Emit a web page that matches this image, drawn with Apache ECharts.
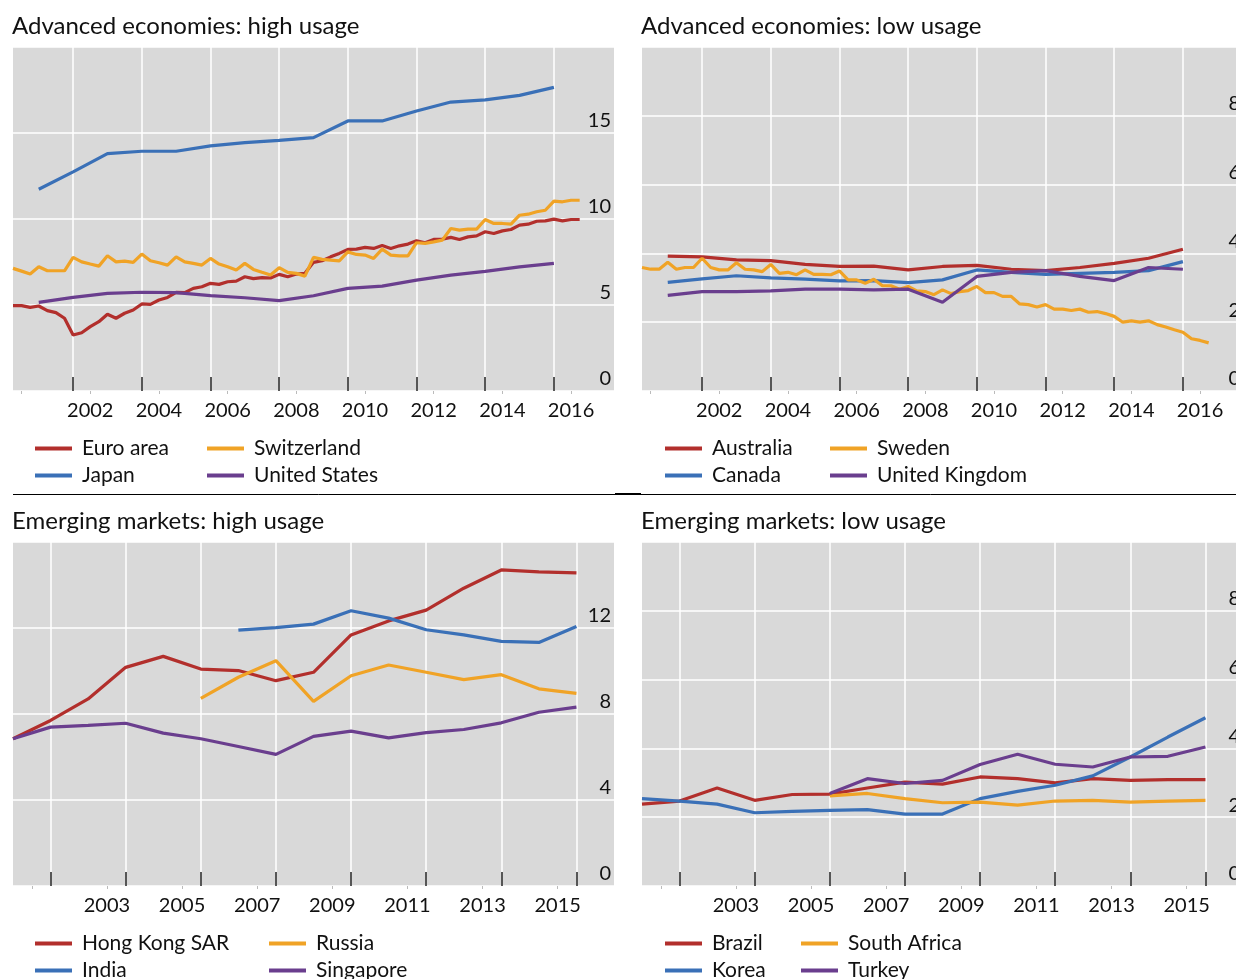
<!DOCTYPE html>
<html><head><meta charset="utf-8">
<script src="https://cdn.jsdelivr.net/npm/echarts@6/dist/echarts.min.js"></script>
<style>html,body{margin:0;padding:0;background:#fff}#c{width:1236px;height:979px}</style>
</head><body><div id="c"></div><script>
// ---------- data ----------
const annualYears = [2001,2002,2003,2004,2005,2006,2007,2008,2009,2010,2011,2012,2013,2014,2015,2016];
// quarterly periods 2000 Q2 .. 2016 Q4 (x position = end of quarter in decimal years)
const quarterYears = [];
for (let y = 2000; y <= 2016; y++) { for (let q = 1; q <= 4; q++) { const t = y + q / 4; if (t >= 2000.25 && t <= 2016.75) quarterYears.push(t); } }

const euroArea = [4.96,4.96,4.86,4.94,4.67,4.56,4.23,3.26,3.39,3.74,4.03,4.46,4.23,4.52,4.71,5.06,5.04,5.29,5.44,5.73,5.72,5.97,6.06,6.26,6.2,6.35,6.39,6.64,6.53,6.59,6.57,6.78,6.64,6.8,6.84,7.48,7.57,7.8,8.0,8.23,8.25,8.35,8.29,8.46,8.29,8.44,8.54,8.73,8.62,8.81,8.83,8.93,8.81,8.96,9.02,9.26,9.16,9.31,9.39,9.64,9.7,9.87,9.89,9.99,9.89,9.97,9.97];
const switzerland = [7.13,6.97,6.8,7.22,6.99,6.99,6.99,7.77,7.51,7.38,7.26,7.86,7.51,7.55,7.48,7.96,7.57,7.46,7.32,7.8,7.51,7.42,7.32,7.71,7.38,7.22,7.03,7.42,7.07,6.9,6.74,7.17,6.9,6.84,6.68,7.77,7.65,7.61,7.57,8.09,7.94,7.9,7.71,8.25,7.9,7.86,7.86,8.62,8.58,8.67,8.77,9.45,9.35,9.41,9.41,9.97,9.74,9.74,9.7,10.22,10.28,10.42,10.51,11.04,11.0,11.09,11.09];
const japan = [11.73,12.74,13.8,13.94,13.94,14.25,14.44,14.57,14.73,15.7,15.7,16.28,16.8,16.93,17.19,17.65];
const unitedStates = [5.15,5.44,5.68,5.74,5.72,5.54,5.42,5.25,5.54,5.97,6.1,6.45,6.74,6.95,7.22,7.42];

const australia = [3.92,3.9,3.81,3.79,3.68,3.62,3.63,3.52,3.62,3.65,3.54,3.5,3.59,3.71,3.86,4.12];
const canada = [3.16,3.26,3.35,3.29,3.25,3.2,3.21,3.15,3.23,3.52,3.45,3.39,3.42,3.45,3.5,3.76];
const unitedKingdom = [2.78,2.89,2.89,2.91,2.96,2.96,2.94,2.96,2.58,3.33,3.45,3.5,3.33,3.21,3.59,3.54];
const sweden = [3.59,3.54,3.54,3.74,3.54,3.59,3.59,3.86,3.59,3.52,3.52,3.73,3.54,3.52,3.47,3.68,3.42,3.45,3.38,3.52,3.39,3.39,3.38,3.49,3.23,3.23,3.13,3.25,3.06,3.06,2.96,3.04,2.91,2.89,2.8,2.94,2.83,2.89,2.92,3.04,2.86,2.86,2.75,2.75,2.53,2.51,2.44,2.51,2.38,2.38,2.34,2.38,2.29,2.31,2.25,2.17,2.0,2.04,2.0,2.04,1.93,1.86,1.78,1.71,1.52,1.47,1.4];

const hongKong = [6.85,7.7,8.7,10.17,10.68,10.09,10.02,9.55,9.94,11.68,12.33,12.83,13.85,14.7,14.61,14.56];
const india = [null,null,null,null,null,null,11.9,12.02,12.18,12.8,12.46,11.92,11.68,11.38,11.33,12.07];
const russia = [null,null,null,null,null,8.73,9.71,10.48,8.59,9.78,10.28,9.94,9.6,9.83,9.17,8.96];
const singapore = [6.85,7.39,7.47,7.57,7.11,6.85,6.49,6.12,6.96,7.2,6.89,7.13,7.28,7.59,8.08,8.32];

const brazil = [2.38,2.47,2.85,2.49,2.66,2.67,2.85,3.02,2.96,3.17,3.12,3.0,3.12,3.07,3.09,3.09];
const korea = [2.54,2.47,2.38,2.13,2.17,2.2,2.22,2.09,2.09,2.54,2.75,2.93,3.2,3.75,4.33,4.89];
const southAfrica = [null,null,null,null,null,2.62,2.69,2.54,2.42,2.44,2.35,2.47,2.49,2.44,2.47,2.49];
const turkey = [null,null,null,null,null,2.69,3.12,2.98,3.07,3.53,3.83,3.54,3.46,3.75,3.77,4.04];

const gridYears = [2002,2004,2006,2008,2010,2012,2014,2016];
const topLabelYears = [2002,2004,2006,2008,2010,2012,2014,2016];
const bottomLabelYears = [2003,2005,2007,2009,2011,2013,2015];

// ---------- styling ----------
const FONT = 'Lato';
const COLORS = ['#B22F2C', '#3A70B7', '#F0A326', '#6A3E8E'];
const zip = (xs, ys) => xs.map((x, i) => [x, ys[i]]);

const panels = [
  { title: 'Advanced economies: high usage', left: 13, top: 47, xmin: 2000.25, xmax: 2017.75, ymax: 20, yint: 5,
    labels: topLabelYears, minorFirst: 2000.5,
    series: [['Euro area', zip(quarterYears, euroArea)], ['Japan', zip(annualYears, japan)],
             ['Switzerland', zip(quarterYears, switzerland)], ['United States', zip(annualYears, unitedStates)]],
    legendLeft: [35, 207] },
  { title: 'Advanced economies: low usage', left: 642, top: 47, xmin: 2000.25, xmax: 2017.75, ymax: 10, yint: 2,
    labels: topLabelYears, minorFirst: 2000.5,
    series: [['Australia', zip(annualYears, australia)], ['Canada', zip(annualYears, canada)],
             ['Sweden', zip(quarterYears, sweden)], ['United Kingdom', zip(annualYears, unitedKingdom)]],
    legendLeft: [665, 830] },
  { title: 'Emerging markets: high usage', left: 13, top: 542, xmin: 2001, xmax: 2017, ymax: 16, yint: 4,
    labels: bottomLabelYears, minorFirst: 2001.5,
    series: [['Hong Kong SAR', zip(annualYears, hongKong)], ['India', zip(annualYears, india)],
             ['Russia', zip(annualYears, russia)], ['Singapore', zip(annualYears, singapore)]],
    legendLeft: [35, 269] },
  { title: 'Emerging markets: low usage', left: 642, top: 542, xmin: 2001, xmax: 2017, ymax: 10, yint: 2,
    labels: bottomLabelYears, minorFirst: 2001.5,
    series: [['Brazil', zip(annualYears, brazil)], ['Korea', zip(annualYears, korea)],
             ['South Africa', zip(annualYears, southAfrica)], ['Turkey', zip(annualYears, turkey)]],
    legendLeft: [665, 801] }
];

const option = { animation: false, title: [], grid: [], xAxis: [], yAxis: [], series: [], legend: [], graphic: [] };
const W = 601, H = 344;

panels.forEach((p, k) => {
  option.title.push({ text: p.title, left: p.left - 1, top: p.top - 33, padding: 0,
    textStyle: { fontFamily: FONT, fontSize: 24, fontWeight: 'normal', color: '#111' } });
  option.grid.push({ left: p.left, top: p.top, width: W, height: H, show: true,
    backgroundColor: '#D9D9D9', borderWidth: 0, containLabel: false, outerBoundsMode: 'none' });
  // main axis: gridlines + major inside ticks
  option.xAxis.push({ type: 'value', gridIndex: k, min: p.xmin, max: p.xmax, position: 'bottom',
    axisLine: { show: false },
    axisTick: { show: true, inside: true, length: 14, customValues: gridYears, lineStyle: { color: '#222', width: 1.5 } },
    axisLabel: { show: false },
    splitLine: { show: true, lineStyle: { color: '#FFFFFF', width: 1.5 } } });
  option.yAxis.push({ type: 'value', gridIndex: k, min: 0, max: p.ymax, interval: p.yint, position: 'right',
    axisLine: { show: false }, axisTick: { show: false },
    axisLabel: { inside: true, margin: 3, verticalAlign: 'bottom', showMaxLabel: false, padding: [0, 0, 2, 0],
      fontFamily: FONT, fontSize: 20, color: '#111' },
    splitLine: { show: true, lineStyle: { color: '#FFFFFF', width: 1.5 } } });
  p.series.forEach((s, j) => {
    option.series.push({ name: s[0], type: 'line', xAxisIndex: k, yAxisIndex: k, data: s[1],
      showSymbol: false, symbol: 'none', connectNulls: false, clip: true,
      lineStyle: { color: COLORS[j], width: 3.2 }, itemStyle: { color: COLORS[j] }, z: 3 });
  });
  [0, 1].forEach(c => {
    option.legend.push({ orient: 'vertical', left: p.legendLeft[c], top: p.top + H + 47, height: 80, padding: 0,
      itemGap: 6, itemWidth: 37, itemHeight: 4, icon: 'rect', selectedMode: false,
      data: [p.series[c * 2][0], p.series[c * 2 + 1][0]],
      textStyle: { fontFamily: FONT, fontSize: 21, color: '#111', padding: [0, 0, 0, 5] } });
  });
});
// label axes (mid-year labels + small outer ticks)
panels.forEach((p, k) => {
  const minor = [p.minorFirst].concat(p.labels.map(y => y + 0.5));
  option.xAxis.push({ type: 'value', gridIndex: k, min: p.xmin, max: p.xmax, position: 'bottom',
    axisLine: { show: false },
    axisTick: { show: true, inside: false, length: 3, customValues: minor, lineStyle: { color: '#BBBBBB', width: 1 } },
    axisLabel: { show: true, customValues: p.labels.map(y => y + 0.5), margin: 10,
      formatter: v => String(Math.floor(v)), fontFamily: FONT, fontSize: 20, color: '#111' },
    splitLine: { show: false } });
});
option.graphic.push({ type: 'line', shape: { x1: 13, y1: 494.5, x2: 1236, y2: 494.5 }, style: { stroke: '#000', lineWidth: 1 } });
option.graphic.push({ type: 'line', shape: { x1: 615, y1: 494, x2: 641, y2: 494 }, style: { stroke: '#000', lineWidth: 2 } });

const chart = echarts.init(document.getElementById('c'), null, { renderer: 'canvas' });
chart.setOption(option);
</script></body></html>
